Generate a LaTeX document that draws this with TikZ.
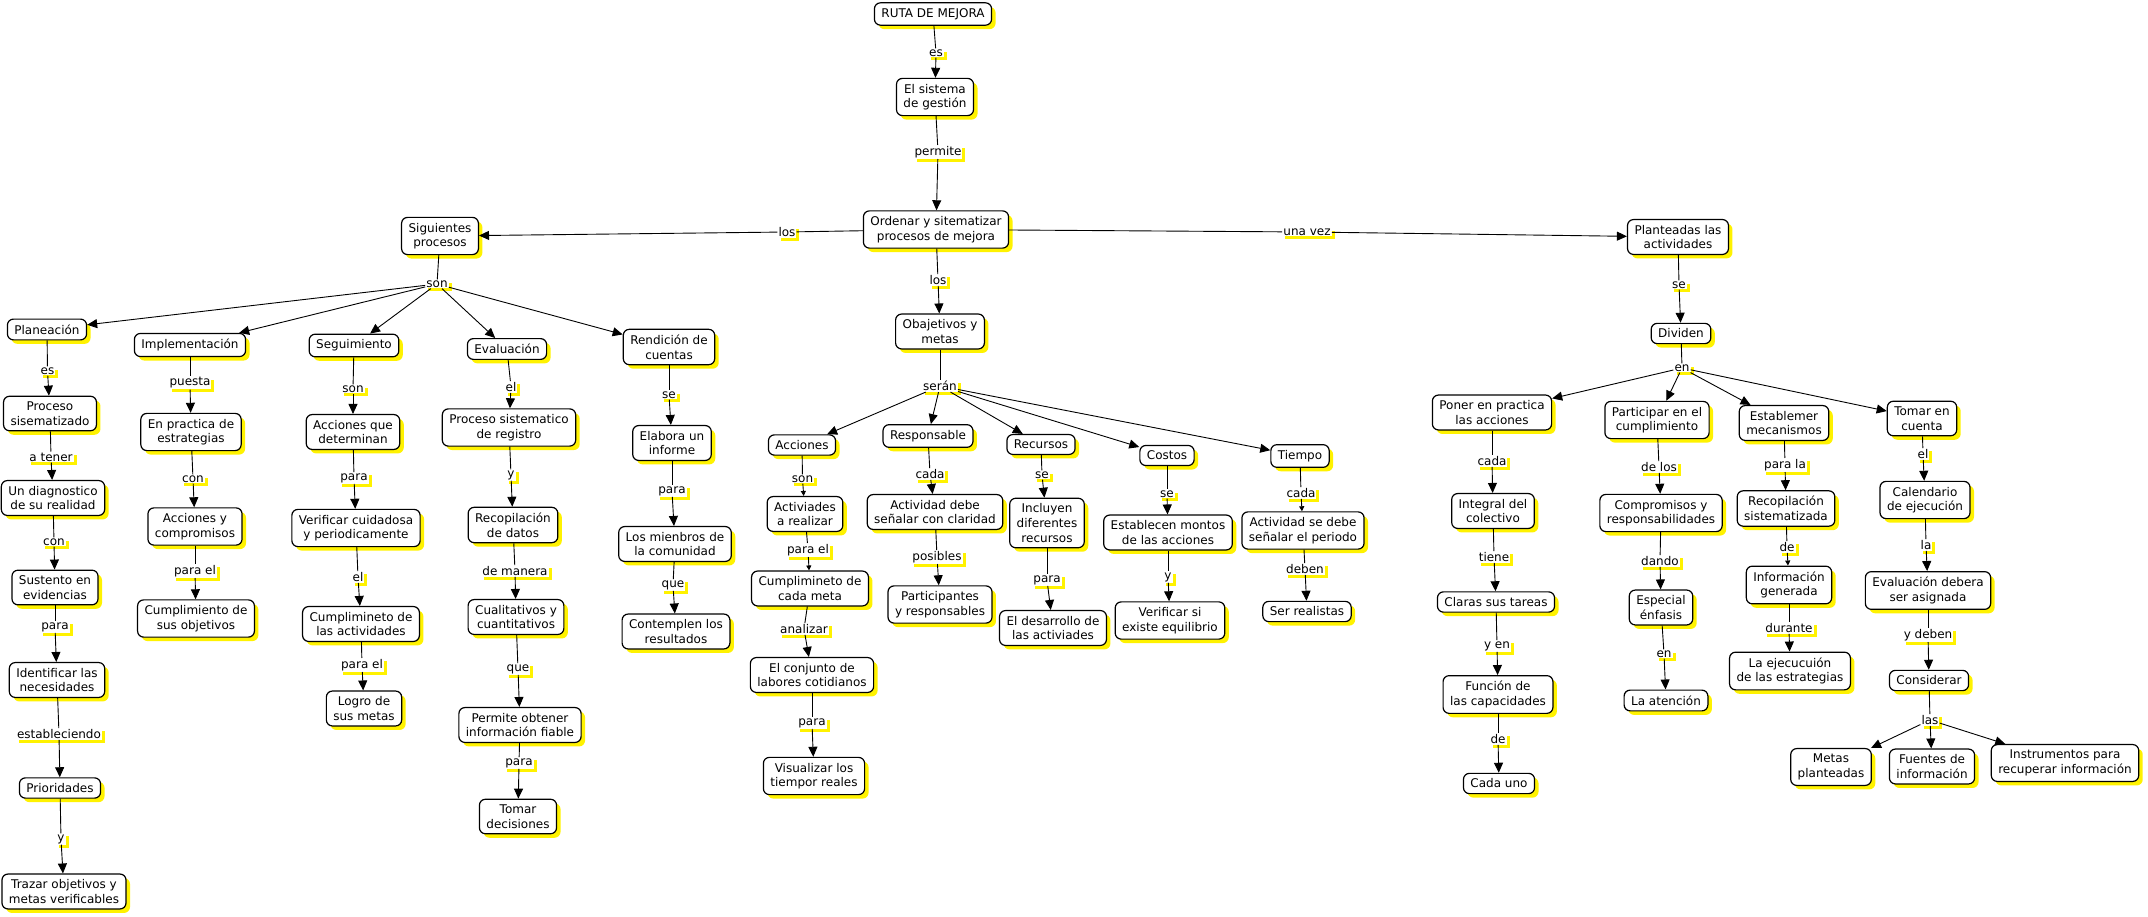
\documentclass[tikz,border=0pt]{standalone}
\usepackage{fontspec}
\setmainfont{DejaVu Sans}
\usetikzlibrary{arrows.meta,shadows}

\begin{document}
\begin{tikzpicture}[
  x=1pt, y=-1pt,
  font=\fontsize{12}{14.6}\selectfont,
  concept/.style={rectangle, rounded corners=6pt, draw=black, line width=1.2pt,
    fill=white, align=center, inner xsep=7pt, inner ysep=5.5pt,
    drop shadow={shadow xshift=4pt, shadow yshift=-4pt, fill=yellow, opacity=1}},
  link/.style={fill=white, inner sep=1pt,
    drop shadow={shadow xshift=3pt, shadow yshift=-3pt, fill=yellow, opacity=1}},
  con/.style={line width=0.9pt, draw=black},
  flow/.style={con, -{Triangle[length=10pt,width=9pt]}},
  flowsm/.style={con, -{Triangle[length=5pt,width=5pt]}},
]
\useasboundingbox (0,0) rectangle (2148,917);

% top spine
\node[concept] (ruta) at (933,14) {RUTA DE MEJORA};
\node[concept] (sist) at (935,97) {El sistema\\de gestión};
\node[concept] (orden) at (936,229.5) {Ordenar y sitematizar\\procesos de mejora};
\node[concept] (sig) at (440,236) {Siguientes\\procesos};
\node[concept] (obj) at (940,331.5) {Obajetivos y\\metas};
\node[concept] (plan) at (1678,237) {Planteadas las\\actividades};
\node[link] (l-sist) at (936,53) {es};
\node[link] (l-orden) at (938,152) {permite};
\node[link] (l-sig) at (787,232) {los};
\node[link] (l-plan) at (1307,232) {una vez};
\node[link] (l-obj) at (938,280) {los};
\node[link] (l-son) at (437,284) {son};

% processes
\node[concept] (planea) at (47,329.5) {Planeación};
\node[concept] (procsis) at (50,413.5) {Proceso\\sisematizado};
\node[concept] (diag) at (53,498) {Un diagnostico\\de su realidad};
\node[concept] (sust) at (55,587.5) {Sustento en\\evidencias};
\node[concept] (ident) at (57,680) {Identificar las\\necesidades};
\node[concept] (prior) at (60,788) {Prioridades};
\node[concept] (trazar) at (64,891.5) {Trazar objetivos y\\metas verificables};
\node[link] (l-procsis) at (47.5,371) {es};
\node[link] (l-diag) at (51,457) {a tener};
\node[link] (l-sust) at (54,542) {con};
\node[link] (l-ident) at (55,627) {para};
\node[link] (l-prior) at (59,734) {estableciendo};
\node[link] (l-trazar) at (61,839) {y};

\node[concept] (impl) at (190,345) {Implementación};
\node[concept] (enprac) at (191,432) {En practica de\\estrategias};
\node[concept] (accomp) at (195,526.5) {Acciones y\\compromisos};
\node[concept] (cumobj) at (196,618.5) {Cumplimiento de\\sus objetivos};
\node[link] (l-enprac) at (190,383) {puesta};
\node[link] (l-accomp) at (193,479) {con};
\node[link] (l-cumobj) at (195,571) {para el};

\node[concept] (segui) at (354,345.5) {Seguimiento};
\node[concept] (accdet) at (353,432) {Acciones que\\determinan};
\node[concept] (verif) at (356,528) {Verificar cuidadosa\\y periodicamente};
\node[concept] (cumact) at (361,624) {Cumplimineto de\\las actividades};
\node[concept] (logro) at (364,708.5) {Logro de\\sus metas};
\node[link] (l-accdet) at (353,389) {son};
\node[link] (l-verif) at (354,478) {para};
\node[link] (l-cumact) at (358,577) {el};
\node[link] (l-logro) at (362,665) {para el};

\node[concept] (evalu) at (507,349) {Evaluación};
\node[concept] (procreg) at (509,427.5) {Proceso sistematico\\de registro};
\node[concept] (recdat) at (513,525) {Recopilación\\de datos};
\node[concept] (cualit) at (516,617) {Cualitativos y\\cuantitativos};
\node[concept] (permob) at (520,725) {Permite obtener\\información fiable};
\node[concept] (tomar) at (518,816.5) {Tomar\\decisiones};
\node[link] (l-procreg) at (511,387) {el};
\node[link] (l-recdat) at (511,475) {y};
\node[link] (l-cualit) at (515,571) {de manera};
\node[link] (l-permob) at (518,669) {que};
\node[link] (l-tomar) at (519,763) {para};

\node[concept] (rend) at (669,347) {Rendición de\\cuentas};
\node[concept] (elab) at (672,443) {Elabora un\\informe};
\node[concept] (miemb) at (675,544) {Los mienbros de\\la comunidad};
\node[concept] (contem) at (676,631.5) {Contemplen los\\resultados};
\node[link] (l-elab) at (669,395) {se};
\node[link] (l-miemb) at (672,491) {para};
\node[link] (l-contem) at (673,585) {que};

% objectives
\node[link] (l-seran) at (940,386) {serán};
\node[concept] (acc) at (802,445) {Acciones};
\node[concept] (activ) at (805,514) {Activiades\\a realizar};
\node[concept] (cummeta) at (810,588.5) {Cumplimineto de\\cada meta};
\node[concept] (conj) at (812,675) {El conjunto de\\labores cotidianos};
\node[concept] (visual) at (814,776) {Visualizar los\\tiempor reales};
\node[link] (l-activ) at (802.5,479) {son};
\node[link] (l-cummeta) at (808,550) {para el};
\node[link] (l-conj) at (804,629) {analizar};
\node[link] (l-visual) at (812,723) {para};

\node[concept] (resp) at (928,436) {Responsable};
\node[concept] (actdeb) at (935,512) {Actividad debe\\señalar con claridad};
\node[concept] (partic) at (940,604.5) {Participantes\\y responsables};
\node[link] (l-actdeb) at (930,474) {cada};
\node[link] (l-partic) at (937,557) {posibles};

\node[concept] (recur) at (1041,444.5) {Recursos};
\node[concept] (incl) at (1047,523) {Incluyen\\diferentes\\recursos};
\node[concept] (desarr) at (1053,628) {El desarrollo de\\las activiades};
\node[link] (l-incl) at (1042,475) {se};
\node[link] (l-desarr) at (1047,580) {para};

\node[concept] (costos) at (1167,455.5) {Costos};
\node[concept] (establ) at (1168,532.5) {Establecen montos\\de las acciones};
\node[concept] (verifsi) at (1170,620.5) {Verificar si\\existe equilibrio};
\node[link] (l-establ) at (1167,494) {se};
\node[link] (l-verifsi) at (1168,577) {y};

\node[concept] (tiempo) at (1300,456) {Tiempo};
\node[concept] (actse) at (1303,530.5) {Actividad se debe\\señalar el periodo};
\node[concept] (ser) at (1307,611.5) {Ser realistas};
\node[link] (l-actse) at (1301,493) {cada};
\node[link] (l-ser) at (1305,569) {deben};

% activities
\node[concept] (divid) at (1681,333.5) {Dividen};
\node[link] (l-divid) at (1679,285) {se};
\node[link] (l-en) at (1682,368) {en};

\node[concept] (poner) at (1492,412.5) {Poner en practica\\las acciones};
\node[concept] (integ) at (1493,511) {Integral del\\colectivo};
\node[concept] (claras) at (1496,602) {Claras sus tareas};
\node[concept] (func) at (1498,694.5) {Función de\\las capacidades};
\node[concept] (cadauno) at (1499,783.5) {Cada uno};
\node[link] (l-integ) at (1492,461) {cada};
\node[link] (l-claras) at (1494,557) {tiene};
\node[link] (l-func) at (1497,646) {y en};
\node[link] (l-cadauno) at (1498,739) {de};

\node[concept] (partc) at (1657,420) {Participar en el\\cumplimiento};
\node[concept] (compr) at (1661,513) {Compromisos y\\responsabilidades};
\node[concept] (espec) at (1661,607.5) {Especial\\énfasis};
\node[concept] (atenc) at (1666,700.5) {La atención};
\node[link] (l-compr) at (1659,467) {de los};
\node[link] (l-espec) at (1660,561) {dando};
\node[link] (l-atenc) at (1664,654) {en};

\node[concept] (estm) at (1784,423) {Establemer\\mecanismos};
\node[concept] (recsis) at (1786,508.5) {Recopilación\\sistematizada};
\node[concept] (infgen) at (1789,585) {Información\\generada};
\node[concept] (ejec) at (1790,671) {La ejecucuión\\de las estrategias};
\node[link] (l-recsis) at (1785,465) {para la};
\node[link] (l-infgen) at (1787,547) {de};
\node[link] (l-ejec) at (1789,628) {durante};

\node[concept] (tomc) at (1922,418.5) {Tomar en\\cuenta};
\node[concept] (calend) at (1925,500) {Calendario\\de ejecución};
\node[concept] (evasig) at (1928,590.5) {Evaluación debera\\ser asignada};
\node[concept] (consid) at (1929,680.5) {Considerar};
\node[concept] (metas) at (1831,767) {Metas\\planteadas};
\node[concept] (fuent) at (1932,766.5) {Fuentes de\\información};
\node[concept] (instr) at (2065,763) {Instrumentos para\\recuperar información};
\node[link] (l-calend) at (1923,454) {el};
\node[link] (l-evasig) at (1926,545) {la};
\node[link] (l-consid) at (1928,635) {y deben};
\node[link] (l-las) at (1930,720) {las};

% connectors
\draw[con] (ruta) -- (l-sist); \draw[flow] (l-sist) -- (sist);
\draw[con] (sist) -- (l-orden); \draw[flow] (l-orden) -- (orden);
\draw[con] (orden) -- (l-sig); \draw[flow] (l-sig) -- (sig);
\draw[con] (orden) -- (l-plan); \draw[flow] (l-plan) -- (plan);
\draw[con] (orden) -- (l-obj); \draw[flow] (l-obj) -- (obj);

\draw[con] (sig) -- (l-son);
\draw[flow] (l-son) -- (planea);
\draw[flow] (l-son) -- (impl);
\draw[flow] (l-son) -- (segui);
\draw[flow] (l-son) -- (evalu);
\draw[flow] (l-son) -- (rend);

\draw[con] (planea) -- (l-procsis); \draw[flow] (l-procsis) -- (procsis);
\draw[con] (procsis) -- (l-diag); \draw[flow] (l-diag) -- (diag);
\draw[con] (diag) -- (l-sust); \draw[flow] (l-sust) -- (sust);
\draw[con] (sust) -- (l-ident); \draw[flow] (l-ident) -- (ident);
\draw[con] (ident) -- (l-prior); \draw[flow] (l-prior) -- (prior);
\draw[con] (prior) -- (l-trazar); \draw[flow] (l-trazar) -- (trazar);

\draw[con] (impl) -- (l-enprac); \draw[flow] (l-enprac) -- (enprac);
\draw[con] (enprac) -- (l-accomp); \draw[flow] (l-accomp) -- (accomp);
\draw[con] (accomp) -- (l-cumobj); \draw[flow] (l-cumobj) -- (cumobj);

\draw[con] (segui) -- (l-accdet); \draw[flow] (l-accdet) -- (accdet);
\draw[con] (accdet) -- (l-verif); \draw[flow] (l-verif) -- (verif);
\draw[con] (verif) -- (l-cumact); \draw[flow] (l-cumact) -- (cumact);
\draw[con] (cumact) -- (l-logro); \draw[flow] (l-logro) -- (logro);

\draw[con] (evalu) -- (l-procreg); \draw[flow] (l-procreg) -- (procreg);
\draw[con] (procreg) -- (l-recdat); \draw[flow] (l-recdat) -- (recdat);
\draw[con] (recdat) -- (l-cualit); \draw[flow] (l-cualit) -- (cualit);
\draw[con] (cualit) -- (l-permob); \draw[flow] (l-permob) -- (permob);
\draw[con] (permob) -- (l-tomar); \draw[flow] (l-tomar) -- (tomar);

\draw[con] (rend) -- (l-elab); \draw[flow] (l-elab) -- (elab);
\draw[con] (elab) -- (l-miemb); \draw[flow] (l-miemb) -- (miemb);
\draw[con] (miemb) -- (l-contem); \draw[flow] (l-contem) -- (contem);

\draw[con] (obj) -- (l-seran);
\draw[flow] (l-seran) -- (acc);
\draw[flow] (l-seran) -- (resp);
\draw[flow] (l-seran) -- (recur);
\draw[flow] (l-seran) -- (costos);
\draw[flow] (l-seran) -- (tiempo);

\draw[con] (acc) -- (l-activ); \draw[flowsm] (l-activ) -- (activ);
\draw[con] (activ) -- (l-cummeta); \draw[flowsm] (l-cummeta) -- (cummeta);
\draw[con] (cummeta) -- (l-conj); \draw[flow] (l-conj) -- (conj);
\draw[con] (conj) -- (l-visual); \draw[flow] (l-visual) -- (visual);

\draw[con] (resp) -- (l-actdeb); \draw[flow] (l-actdeb) -- (actdeb);
\draw[con] (actdeb) -- (l-partic); \draw[flow] (l-partic) -- (partic);

\draw[con] (recur) -- (l-incl); \draw[flow] (l-incl) -- (incl);
\draw[con] (incl) -- (l-desarr); \draw[flow] (l-desarr) -- (desarr);

\draw[con] (costos) -- (l-establ); \draw[flow] (l-establ) -- (establ);
\draw[con] (establ) -- (l-verifsi); \draw[flow] (l-verifsi) -- (verifsi);

\draw[con] (tiempo) -- (l-actse); \draw[flowsm] (l-actse) -- (actse);
\draw[con] (actse) -- (l-ser); \draw[flow] (l-ser) -- (ser);

\draw[con] (plan) -- (l-divid); \draw[flow] (l-divid) -- (divid);
\draw[con] (divid) -- (l-en);
\draw[flow] (l-en) -- (poner);
\draw[flow] (l-en) -- (partc);
\draw[flow] (l-en) -- (estm);
\draw[flow] (l-en) -- (tomc);

\draw[con] (poner) -- (l-integ); \draw[flow] (l-integ) -- (integ);
\draw[con] (integ) -- (l-claras); \draw[flow] (l-claras) -- (claras);
\draw[con] (claras) -- (l-func); \draw[flow] (l-func) -- (func);
\draw[con] (func) -- (l-cadauno); \draw[flow] (l-cadauno) -- (cadauno);

\draw[con] (partc) -- (l-compr); \draw[flow] (l-compr) -- (compr);
\draw[con] (compr) -- (l-espec); \draw[flow] (l-espec) -- (espec);
\draw[con] (espec) -- (l-atenc); \draw[flow] (l-atenc) -- (atenc);

\draw[con] (estm) -- (l-recsis); \draw[flow] (l-recsis) -- (recsis);
\draw[con] (recsis) -- (l-infgen); \draw[flowsm] (l-infgen) -- (infgen);
\draw[con] (infgen) -- (l-ejec); \draw[flow] (l-ejec) -- (ejec);

\draw[con] (tomc) -- (l-calend); \draw[flow] (l-calend) -- (calend);
\draw[con] (calend) -- (l-evasig); \draw[flow] (l-evasig) -- (evasig);
\draw[con] (evasig) -- (l-consid); \draw[flow] (l-consid) -- (consid);
\draw[con] (consid) -- (l-las);
\draw[flow] (l-las) -- (metas);
\draw[flow] (l-las) -- (fuent);
\draw[flow] (l-las) -- (instr);
\end{tikzpicture}
\end{document}
